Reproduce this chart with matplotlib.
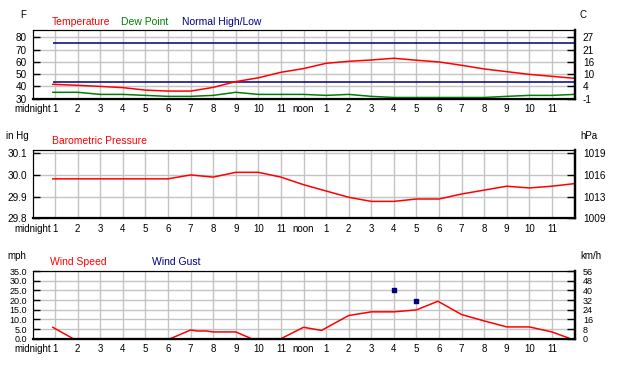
import numpy as np
import matplotlib
matplotlib.use("Agg")
import matplotlib.pyplot as plt

plt.rcParams['font.family'] = ['Liberation Sans', 'DejaVu Sans']

# hour of day (0 = midnight)
hours = [0.9, 2, 3, 4, 5, 6, 7, 8, 9, 10, 11, 12, 13, 14, 15, 16, 17, 18, 19, 20, 21, 22, 23, 24]
temperature = [41.7, 40.9, 40.0, 39.0, 37.0, 36.2, 36.2, 39.2, 43.9, 47.0, 51.5, 54.5,
               58.8, 60.4, 61.5, 62.9, 61.3, 59.9, 57.2, 54.2, 52.0, 49.8, 48.2, 46.6]
dew_point = [35.2, 35.2, 33.5, 33.5, 32.7, 31.9, 31.9, 32.7, 35.2, 33.5, 33.5, 33.5,
             32.7, 33.5, 31.9, 31.0, 31.0, 31.0, 31.0, 31.0, 31.9, 32.7, 32.7, 33.5]
normal_high = 75
normal_low = 43.5

pressure = [29.982, 29.982, 29.982, 29.982, 29.982, 29.982, 30.0, 29.99, 30.012, 30.012, 29.99, 29.955,
            29.926, 29.897, 29.878, 29.878, 29.889, 29.889, 29.912, 29.93, 29.948, 29.94, 29.948, 29.96]

wind_hours = [0.9, 1.8, 6.1, 7.0, 7.3, 7.7, 8.0, 9.0, 9.7, 11.0, 12.0, 12.3, 12.8,
              14.0, 15.0, 16.0, 17.0, 17.95, 19.0, 20.0, 21.0, 22.0, 23.0, 23.75]
wind_speed = [5.9, 0, 0, 4.5, 4.0, 4.0, 3.5, 3.5, 0, 0, 5.9, 5.3, 4.3,
              12.0, 13.9, 13.9, 14.9, 19.4, 12.5, 9.2, 6.1, 6.1, 3.5, 0.3]
gust_hours = [16, 17]
wind_gust = [25.1, 19.4]

hour_labels = ['midnight'] + [str(h) for h in range(1, 12)] + ['noon'] + [str(h) for h in range(1, 12)]

temp_ticks = [30, 40, 50, 60, 70, 80]
pres_ticks = [29.8, 29.9, 30.0, 30.1]
wind_ticks = [0, 5, 10, 15, 20, 25, 30, 35]

RED = '#ff0000'
GREEN = '#008000'
NAVY = '#000080'
GRID = '#c4c4c4'

W, H = 620, 375
fig = plt.figure(figsize=(W / 100, H / 100), dpi=100)
fig.patch.set_facecolor('white')


def px(x, y):
    return x / W, 1 - y / H


def make_axes(top, bottom, ylim, ticks, left_labels, right_labels, fs):
    ax = fig.add_axes([32.5 / W, 1 - bottom / H, 542 / W, (bottom - top) / H])
    ax.set_xlim(0, 24)
    ax.set_ylim(*ylim)
    ax.set_xticks(range(24))
    ax.set_xticklabels(hour_labels, fontsize=7)
    ax.tick_params(axis='x', which='both', length=0, pad=4)
    ax.set_yticks(ticks)
    ax.set_yticklabels(left_labels, fontsize=fs)
    ax.tick_params(axis='y', direction='in', length=5, width=1, pad=4)
    for t in ticks:
        ax.axhline(t, color=GRID, lw=1, zorder=0)
    for h in range(1, 24):
        ax.axvline(h, color=GRID, lw=1, zorder=0)
    for s in ['left', 'top']:
        ax.spines[s].set_linewidth(0.8)
    for s in ['right', 'bottom']:
        ax.spines[s].set_linewidth(1.6)
    ax2 = ax.twinx()
    ax2.set_ylim(*ylim)
    ax2.set_yticks(ticks)
    ax2.set_yticklabels(right_labels, fontsize=fs)
    ax2.tick_params(axis='y', direction='in', length=6, width=1, pad=6)
    ax2.spines['right'].set_linewidth(1.6)
    return ax


# temperature panel
c_labels = [str(int(round((f - 32) * 5 / 9))) for f in temp_ticks]
ax1 = make_axes(30, 98.7, (30, 85.9), temp_ticks, [str(t) for t in temp_ticks], c_labels, 7.2)
ax1.hlines([normal_high, normal_low], hours[0], hours[-1], color=NAVY, lw=1.1)
ax1.plot(hours, dew_point, color=GREEN, lw=1.1)
ax1.plot(hours, temperature, color=RED, lw=1.1)

# pressure panel
hpa_labels = [str(int(round(p * 33.8639))) for p in pres_ticks]
ax2 = make_axes(150, 218.3, (29.8, 30.115), pres_ticks, ['%.1f' % p for p in pres_ticks], hpa_labels, 7.2)
ax2.plot(hours, pressure, color=RED, lw=1.1)

# wind panel
kmh_labels = [str(int(round(w * 1.609344))) for w in wind_ticks]
ax3 = make_axes(270.7, 338.7, (0, 35.2), wind_ticks, ['%.1f' % w for w in wind_ticks], kmh_labels, 6.5)
ax3.plot(wind_hours, wind_speed, color=RED, lw=1.1)
ax3.scatter(gust_hours, wind_gust, marker='s', s=5, color=NAVY, zorder=5)


# titles / legends
def label(x, y, s, color='black', fs=7, ha='left'):
    fig.text(*px(x, y), s, color=color, fontsize=fs, ha=ha, va='center')


label(23, 15, 'F', ha='center')
label(583, 15, 'C', ha='center')
label(51.5, 21.7, 'Temperature', RED, 7.5)
label(121.5, 21.7, 'Dew Point', GREEN, 7.5)
label(181.5, 21.7, 'Normal High/Low', NAVY, 7.5)

label(5.5, 135.7, 'in Hg')
label(580, 135.7, 'hPa')
label(51.5, 141.5, 'Barometric Pressure', RED, 7.5)

label(7.5, 256, 'mph')
label(580, 256, 'km/h')
label(50.5, 261.7, 'Wind Speed', RED, 7.5)
label(151.5, 261.7, 'Wind Gust', NAVY, 7.5)

fig.savefig('out.png', dpi=100)
